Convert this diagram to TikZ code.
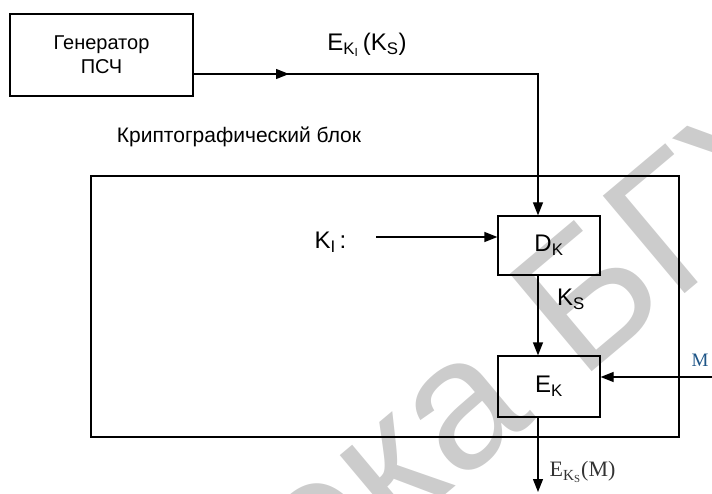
\documentclass[tikz,border=0pt]{standalone}
\usepackage{fontspec}
\setmainfont{Liberation Sans}
\newfontfamily\tms{Liberation Serif}
\usetikzlibrary{arrows.meta}
\begin{document}
\begin{tikzpicture}[x=1pt,y=-1pt,
  line width=1.3pt,
  box/.style={draw, inner sep=0pt},
  arr/.style={-{Triangle[length=13pt,width=10pt]}},
  lbl/.style={inner sep=0pt, font=\fontsize{24}{28}\selectfont},
  wm/.style={text=black!20, inner sep=0pt, font=\fontsize{185}{190}\selectfont, rotate=40}]
\useasboundingbox (0,0) rectangle (712,494);
% watermark
\begin{scope}
\clip (0,0) rectangle (712,494);
\node[wm, anchor=base west] (wmB) at (580,382) {БГУИР};
\node[wm, anchor=base east] (wmA) at (580,382) {Библиотека\kern0.3em};
\end{scope}
% boxes
\node[box, minimum width=183pt, minimum height=82pt, align=center,
      font=\fontsize{20}{24}\selectfont] (gen) at (101.5,55) {Генератор\\ПСЧ};
\node[box, minimum width=588pt, minimum height=261pt] (blk) at (385,306.5) {};
\node[box, minimum width=102pt, minimum height=59pt, font=\fontsize{24}{28}\selectfont] (D) at (549,245.5) {D\textsubscript{K}};
\node[box, minimum width=102pt, minimum height=61pt, font=\fontsize{24}{28}\selectfont] (E) at (549,386.5) {E\textsubscript{K}};
% labels
\node[lbl] (ek1) at (367,45) {E\textsubscript{K\textsubscript{I}}\,(K\textsubscript{S})};
\node[inner sep=0pt, font=\fontsize{21}{24}\selectfont] (crypto) at (239,137) {Криптографический блок};
\node[lbl, anchor=east] (kil) at (347,242) {K\textsubscript{I}\,:};
\node[lbl] (ksl) at (571,299) {K\textsubscript{S}};
\node[inner sep=0pt, anchor=west, text={rgb,255:red,30;green,85;blue,135}, font=\tms\fontsize{19}{22}\selectfont] (ml) at (691,360) {M};
\node[inner sep=0pt, anchor=west, text=black!80, font=\tms\fontsize{22}{26}\selectfont] (outl) at (549,472) {E\textsubscript{K\textsubscript{S}}(M)};
% connectors
\coordinate (c1) at (538,74);
\coordinate (ki) at (376,237);
\coordinate (m) at (712,377);
\coordinate (out) at (538,492);
\draw[arr] (gen.east |- c1) -- (c1) -- (c1 |- D.north);
\draw[arr] (gen.east |- c1) -- (289,74);
\draw[arr] (ki) -- (ki -| D.west);
\draw[arr] (c1 |- D.south) -- (c1 |- E.north);
\draw[arr] (m) -- (m -| E.east);
\draw[arr] (out |- E.south) -- (out);
\end{tikzpicture}
\end{document}
